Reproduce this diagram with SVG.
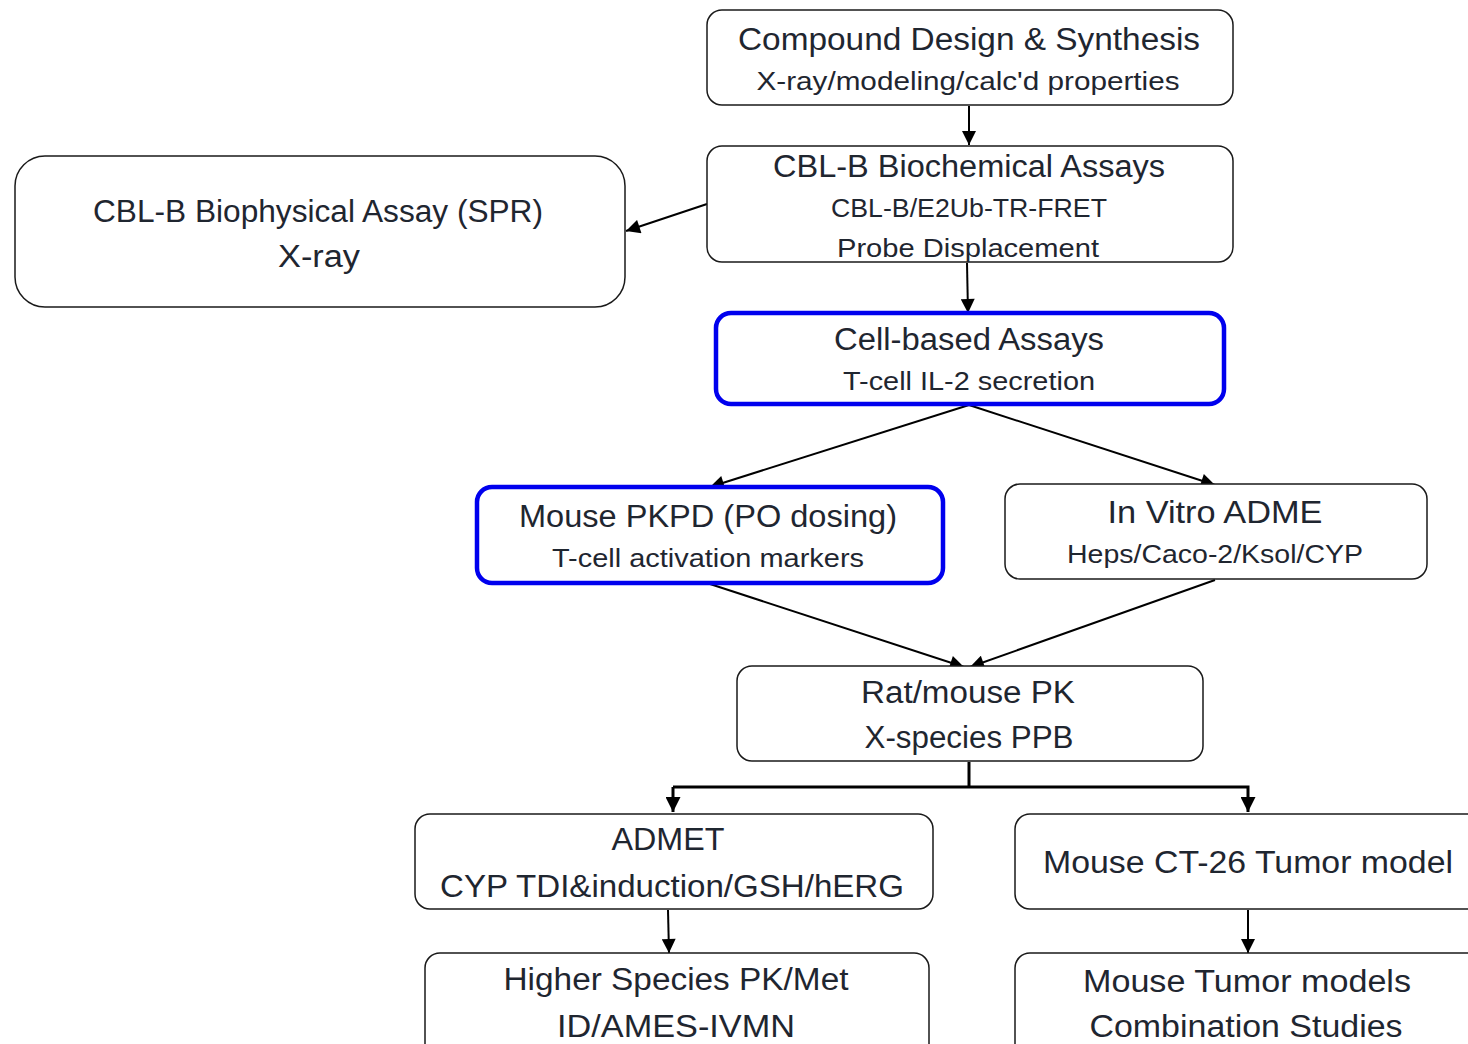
<svg xmlns="http://www.w3.org/2000/svg" width="1468" height="1044" viewBox="0 0 1468 1044">
<style>
.box{fill:#fff;stroke:#1a1a1a;stroke-width:1.5}
.blue{fill:#fff;stroke:#0000ee;stroke-width:4.5}
.t{font-family:"Liberation Sans",Arial,sans-serif;fill:#1f2630;text-anchor:middle}
.big{font-size:31px}
.sm{font-size:25px}
.c{fill:none;stroke:#000;stroke-width:2}
.ct{fill:none;stroke:#000;stroke-width:3}
</style>
<defs>
<marker id="ah" viewBox="0 0 10 10" refX="10" refY="5" markerWidth="7.5" markerHeight="7" markerUnits="strokeWidth" orient="auto"><path d="M0,0 L10,5 L0,10 z" fill="#000"/></marker>
<marker id="ah2" viewBox="0 0 10 10" refX="10" refY="5" markerWidth="5" markerHeight="5" markerUnits="strokeWidth" orient="auto"><path d="M0,0 L10,5 L0,10 z" fill="#000"/></marker>
</defs>
<rect width="1468" height="1044" fill="#fff"/>
<g id="connectors">
<line class="c" x1="969" y1="106" x2="969" y2="145" marker-end="url(#ah)"/>
<line class="c" x1="707" y1="204" x2="626" y2="231" marker-end="url(#ah)"/>
<line class="c" x1="967" y1="263" x2="968" y2="313" marker-end="url(#ah)"/>
<line class="c" x1="969" y1="405" x2="710" y2="487" marker-end="url(#ah)"/>
<line class="c" x1="969" y1="405" x2="1215" y2="485" marker-end="url(#ah)"/>
<line class="c" x1="710" y1="584" x2="964" y2="667" marker-end="url(#ah)"/>
<line class="c" x1="1215" y1="580" x2="970" y2="667" marker-end="url(#ah)"/>
<polyline class="ct" points="969,762 969,787"/>
<polyline class="ct" points="673,787 1248,787 1248,812" marker-end="url(#ah2)"/>
<line class="ct" x1="673" y1="787" x2="673" y2="812" marker-end="url(#ah2)"/>
<line class="c" x1="668" y1="910" x2="669" y2="953" marker-end="url(#ah)"/>
<line class="c" x1="1248" y1="910" x2="1248" y2="953" marker-end="url(#ah)"/>
</g>
<g id="n-compound">
<rect class="box" x="707" y="10" width="526" height="95" rx="15"/>
<text class="t big" x="969" y="50" textLength="462" lengthAdjust="spacingAndGlyphs">Compound Design &amp; Synthesis</text>
<text class="t sm" x="968" y="90" textLength="423" lengthAdjust="spacingAndGlyphs">X-ray/modeling/calc'd properties</text>
</g>
<g id="n-biochem">
<rect class="box" x="707" y="146" width="526" height="116" rx="15"/>
<text class="t big" x="969" y="177" textLength="392" lengthAdjust="spacingAndGlyphs">CBL-B Biochemical Assays</text>
<text class="t sm" x="969" y="217" textLength="276" lengthAdjust="spacingAndGlyphs">CBL-B/E2Ub-TR-FRET</text>
<text class="t sm" x="968" y="257" textLength="262" lengthAdjust="spacingAndGlyphs">Probe  Displacement</text>
</g>
<g id="n-biophys">
<rect class="box" x="15" y="156" width="610" height="151" rx="30"/>
<text class="t big" x="318" y="222" textLength="450" lengthAdjust="spacingAndGlyphs">CBL-B Biophysical Assay (SPR)</text>
<text class="t big" x="319" y="267" textLength="82" lengthAdjust="spacingAndGlyphs">X-ray</text>
</g>
<g id="n-cell">
<rect class="blue" x="716" y="313" width="508" height="91" rx="15"/>
<text class="t big" x="969" y="350" textLength="270" lengthAdjust="spacingAndGlyphs">Cell-based Assays</text>
<text class="t sm" x="969" y="390" textLength="252" lengthAdjust="spacingAndGlyphs">T-cell IL-2 secretion</text>
</g>
<g id="n-pkpd">
<rect class="blue" x="477" y="487" width="466" height="96" rx="15"/>
<text class="t big" x="708" y="527" textLength="378" lengthAdjust="spacingAndGlyphs">Mouse PKPD (PO dosing)</text>
<text class="t sm" x="708" y="567" textLength="312" lengthAdjust="spacingAndGlyphs">T-cell activation markers</text>
</g>
<g id="n-adme">
<rect class="box" x="1005" y="484" width="422" height="95" rx="15"/>
<text class="t big" x="1215" y="523" textLength="215" lengthAdjust="spacingAndGlyphs">In Vitro ADME</text>
<text class="t sm" x="1215" y="563" textLength="296" lengthAdjust="spacingAndGlyphs">Heps/Caco-2/Ksol/CYP</text>
</g>
<g id="n-ratpk">
<rect class="box" x="737" y="666" width="466" height="95" rx="15"/>
<text class="t big" x="968" y="703" textLength="214" lengthAdjust="spacingAndGlyphs">Rat/mouse PK</text>
<text class="t big" x="969" y="748" textLength="209" lengthAdjust="spacingAndGlyphs">X-species PPB</text>
</g>
<g id="n-admet">
<rect class="box" x="415" y="814" width="518" height="95" rx="15"/>
<text class="t big" x="668" y="850" textLength="113" lengthAdjust="spacingAndGlyphs">ADMET</text>
<text class="t big" x="672" y="897" textLength="464" lengthAdjust="spacingAndGlyphs">CYP TDI&amp;induction/GSH/hERG</text>
</g>
<g id="n-ct26">
<rect class="box" x="1015" y="814" width="470" height="95" rx="15"/>
<text class="t big" x="1248" y="873" textLength="410" lengthAdjust="spacingAndGlyphs">Mouse CT-26 Tumor model</text>
</g>
<g id="n-higher">
<rect class="box" x="425" y="953" width="504" height="110" rx="15"/>
<text class="t big" x="676" y="990" textLength="345" lengthAdjust="spacingAndGlyphs">Higher Species PK/Met</text>
<text class="t big" x="676" y="1037" textLength="238" lengthAdjust="spacingAndGlyphs">ID/AMES-IVMN</text>
</g>
<g id="n-tumor">
<rect class="box" x="1015" y="953" width="470" height="110" rx="15"/>
<text class="t big" x="1247" y="992" textLength="328" lengthAdjust="spacingAndGlyphs">Mouse Tumor models</text>
<text class="t big" x="1246" y="1037" textLength="313" lengthAdjust="spacingAndGlyphs">Combination Studies</text>
</g>
</svg>
